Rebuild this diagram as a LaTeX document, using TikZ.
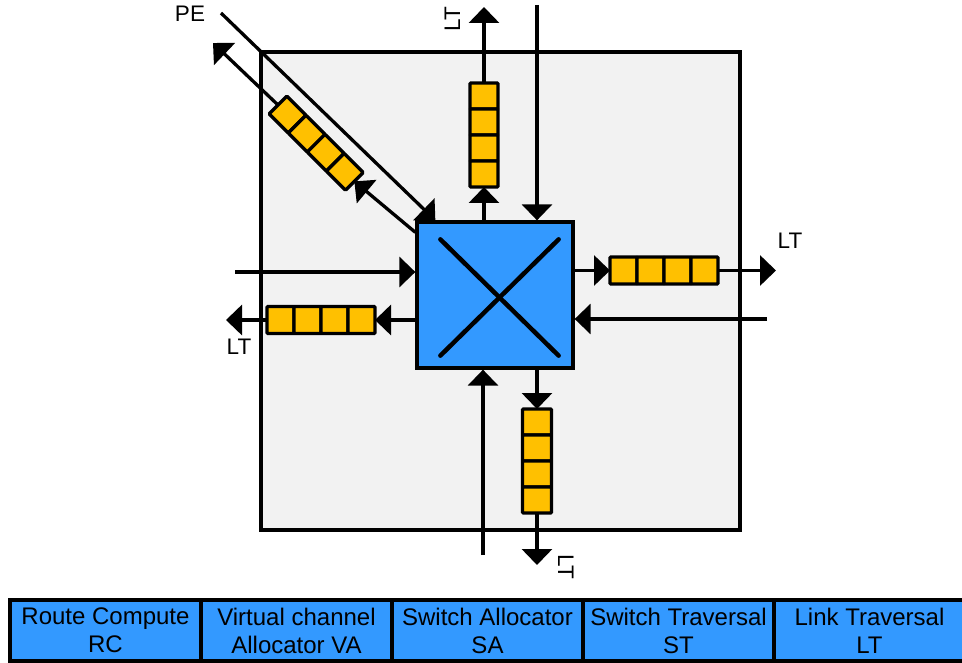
\documentclass[tikz,border=0pt]{standalone}
\usepackage{fontspec}
\setmainfont{Liberation Sans}
\usetikzlibrary{arrows.meta, positioning, calc}
\definecolor{routergrey}{HTML}{F2F2F2}
\definecolor{routerblue}{HTML}{3399FF}
\definecolor{routeramber}{HTML}{FFC000}

\begin{document}
\begin{tikzpicture}[x=1pt, y=-1pt,
    flow/.style={line width=3.3pt, -{Triangle[length=16pt, width=30pt]}},
    slot/.style={draw, line width=3.3pt, fill=routeramber, rounded corners=1pt,
      inner sep=0pt, outer sep=0pt, minimum width=28pt, minimum height=26pt},
    hslot/.style={slot, minimum width=27pt, minimum height=27pt},
    dslot/.style={slot, rotate=-45, minimum width=27pt, minimum height=25pt, anchor=west},
    tag/.style={font=\fontsize{22.5}{26}\selectfont, inner sep=0pt},
    stage/.style={draw, line width=3.3pt, fill=routerblue, inner sep=0pt, outer sep=0pt,
      minimum width=191pt, minimum height=61pt, align=center,
      font=\fontsize{24}{28}\selectfont}]
  \useasboundingbox (0,0) rectangle (962,663);

  \node[draw, line width=3.3pt, fill=routergrey, minimum width=479pt, minimum height=478pt] (tile) at (500.5,291) {};
  \node[draw, line width=3.3pt, fill=routerblue, minimum width=156pt, minimum height=146pt] (xbar) at (495,295) {};
  \draw[line width=4.5pt, line cap=round] ([shift={(25,19)}]xbar.north west) -- ([shift={(-16,-14)}]xbar.south east);
  \draw[line width=4.5pt, line cap=round] ([shift={(-16,19)}]xbar.north east) -- ([shift={(25,-14)}]xbar.south west);

  \node[slot, anchor=north] (t1) at (484,83) {};
  \node[slot, below=0pt of t1] (t2) {};
  \node[slot, below=0pt of t2] (t3) {};
  \node[slot, below=0pt of t3] (t4) {};

  \node[slot, anchor=north, minimum width=29pt] (b1) at (537,409) {};
  \node[slot, minimum width=29pt, below=0pt of b1] (b2) {};
  \node[slot, minimum width=29pt, below=0pt of b2] (b3) {};
  \node[slot, minimum width=29pt, below=0pt of b3] (b4) {};

  \node[hslot, anchor=west] (r1) at (610,270.5) {};
  \node[hslot, right=0pt of r1] (r2) {};
  \node[hslot, right=0pt of r2] (r3) {};
  \node[hslot, right=0pt of r3] (r4) {};

  \node[hslot, anchor=west] (l1) at (267,320) {};
  \node[hslot, right=0pt of l1] (l2) {};
  \node[hslot, right=0pt of l2] (l3) {};
  \node[hslot, right=0pt of l3] (l4) {};

  \node[dslot] (p1) at (278,105) {};
  \node[dslot] (p2) at (p1.east) {};
  \node[dslot] (p3) at (p2.east) {};
  \node[dslot] (p4) at (p3.east) {};

  \coordinate (outN) at (484,7);
  \coordinate (inN) at (537,5);
  \draw[flow] (t4.south |- xbar.north) -- (t4.south);
  \draw[flow] (t1.north) -- (outN);
  \draw[flow] (inN) -- (inN |- xbar.north);

  \coordinate (outS) at (537,565);
  \coordinate (inS) at (483,555);
  \draw[flow] (b1.north |- xbar.south) -- (b1.north);
  \draw[flow] (b4.south) -- (outS);
  \draw[flow] (inS) -- (inS |- xbar.south);

  \coordinate (outE) at (776,270.5);
  \coordinate (inE) at (767,319);
  \draw[flow] (r1.west -| xbar.east) -- (r1.west);
  \draw[flow] (r4.east) -- (outE);
  \draw[flow] (inE) -- (inE -| xbar.east);

  \coordinate (outW) at (226,320);
  \coordinate (inW) at (235,272);
  \draw[flow] (l4.east -| xbar.west) -- (l4.east);
  \draw[flow] (l1.west) -- (outW);
  \draw[flow] (inW) -- (inW -| xbar.west);

  \coordinate (inPE) at (221,13);
  \coordinate (outPE) at (213,43);
  \draw[flow] (inPE) -- ([xshift=20pt]xbar.north west);
  \draw[flow] ([yshift=-12pt]xbar.north west) -- (p4.east);
  \draw[flow] (p1.west) -- (outPE);

  \node[tag, anchor=base] (pe) at (190,22) {PE};
  \node[tag, anchor=base] (ltE) at (790,249) {LT};
  \node[tag, anchor=base] (ltW) at (239,355) {LT};
  \node[tag, anchor=base, rotate=90] (ltN) at (460,19.5) {LT};
  \node[tag, anchor=base, rotate=-90] (ltS) at (558,566.5) {LT};

  \node[stage, anchor=north west] (rc) at (10,600) {Route Compute\\RC};
  \node[stage, right=0pt of rc] (va) {Virtual channel\\Allocator VA};
  \node[stage, right=0pt of va] (sa) {Switch Allocator\\SA};
  \node[stage, right=0pt of sa] (st) {Switch Traversal\\ST};
  \node[stage, right=0pt of st] (lt) {Link Traversal\\LT};
\end{tikzpicture}
\end{document}
